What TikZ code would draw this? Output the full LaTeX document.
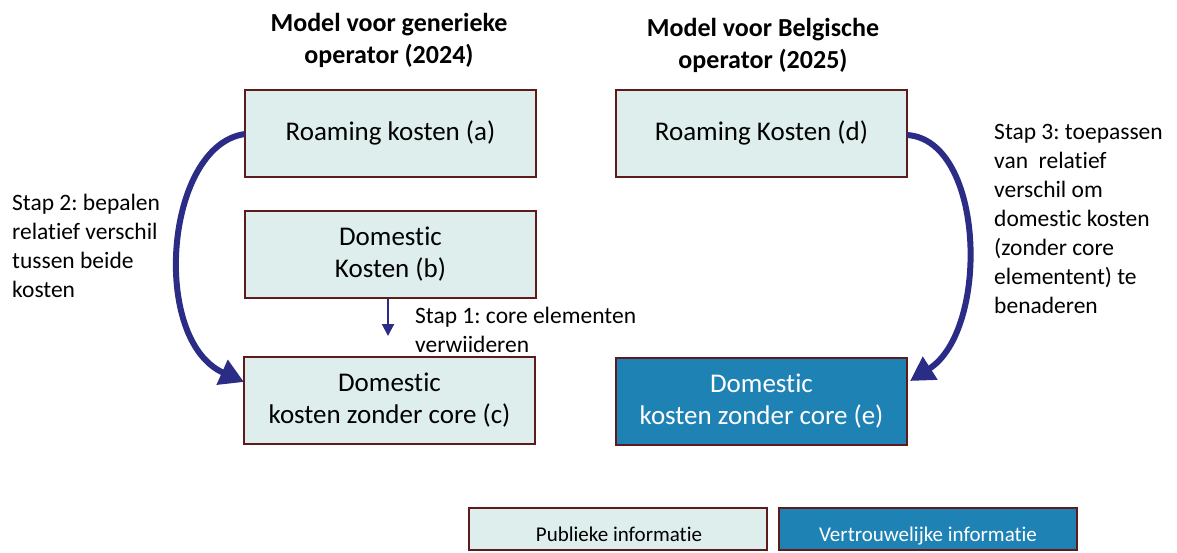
\documentclass[tikz,border=0pt]{standalone}
\usepackage{fontspec}
\setmainfont{Carlito}[Ligatures=NoCommon]
\usetikzlibrary{arrows.meta}
\frenchspacing
\definecolor{lightfill}{HTML}{DDEEED}
\definecolor{darkfill}{HTML}{1F82B4}
\definecolor{boxborder}{HTML}{5E1B1B}
\definecolor{arrowblue}{HTML}{2B2C86}
\tikzset{
  costbox/.style={draw=boxborder, line width=2pt, minimum width=291pt, minimum height=87pt,
    inner sep=0pt, align=center, font=\fontsize{27}{32}\selectfont},
  pubbox/.style={costbox, fill=lightfill, text=black},
  confbox/.style={costbox, fill=darkfill, text=white},
  legendbox/.style={draw=boxborder, line width=2pt, minimum width=298pt, minimum height=42pt, inner sep=0pt},
  titletext/.style={align=center, font=\bfseries\fontsize{26}{32}\selectfont, anchor=base},
  steptext/.style={align=left, anchor=base west, inner sep=0pt, font=\frenchspacing\fontsize{23.5}{29}\selectfont},
  bigarrow/.style={draw=arrowblue, line width=6pt, -{Triangle[length=24pt,width=26pt]}},
  smallarrow/.style={draw=arrowblue, line width=2pt, -{Triangle[length=12pt,width=12pt]}},
  legendtext/.style={anchor=base, inner sep=0pt, font=\fontsize{21}{25}\selectfont}
}
\begin{document}
\begin{tikzpicture}[x=1pt,y=-1pt]
\useasboundingbox (0,0) rectangle (1177,552);
% titles (anchor = baseline of last line)
\node[titletext] (t1) at (389,63) {Model voor generieke\\operator (2024)};
\node[titletext] (t2) at (763,68) {Model voor Belgische\\operator (2025)};
% boxes
\node[pubbox] (a) at (390.5,133) {Roaming kosten (a)};
\node[pubbox] (b) at (390.5,254.5) {Domestic\\Kosten (b)};
\node[pubbox] (c) at (389.5,400.5) {Domestic\\kosten zonder core (c)};
\node[pubbox] (d) at (761.5,133) {Roaming Kosten (d)};
\node[confbox] (e) at (761.5,401.5) {Domestic\\kosten zonder core (e)};
% step 1
\coordinate (s1end) at (388,336);
\draw[smallarrow] (s1end |- b.south) -- (s1end);
\node[steptext] (s1) at (415,352) {Stap 1: core elementen\\verwiideren};
% step 2
\draw[bigarrow] (245,134) .. controls (165,145) and (150,340) .. (244,382);
\node[steptext] (s2) at (12,297) {Stap 2: bepalen\\relatief verschil\\tussen beide\\kosten};
% step 3
\draw[bigarrow] (907,135) .. controls (985,140) and (990,330) .. (910,381);
\node[steptext] (s3) at (994,313) {Stap 3: toepassen\\van\ \ relatief\\verschil om\\domestic kosten\\(zonder core\\elementent) te\\benaderen};
% legend
\node[legendbox, fill=lightfill] (lp) at (618,529) {};
\node[legendbox, fill=darkfill] (lv) at (928,529) {};
\node[legendtext, text=black] (lpt) at (619,541) {Publieke informatie};
\node[legendtext, text=white] (lvt) at (928,541) {Vertrouwelijke informatie};
\end{tikzpicture}
\end{document}
